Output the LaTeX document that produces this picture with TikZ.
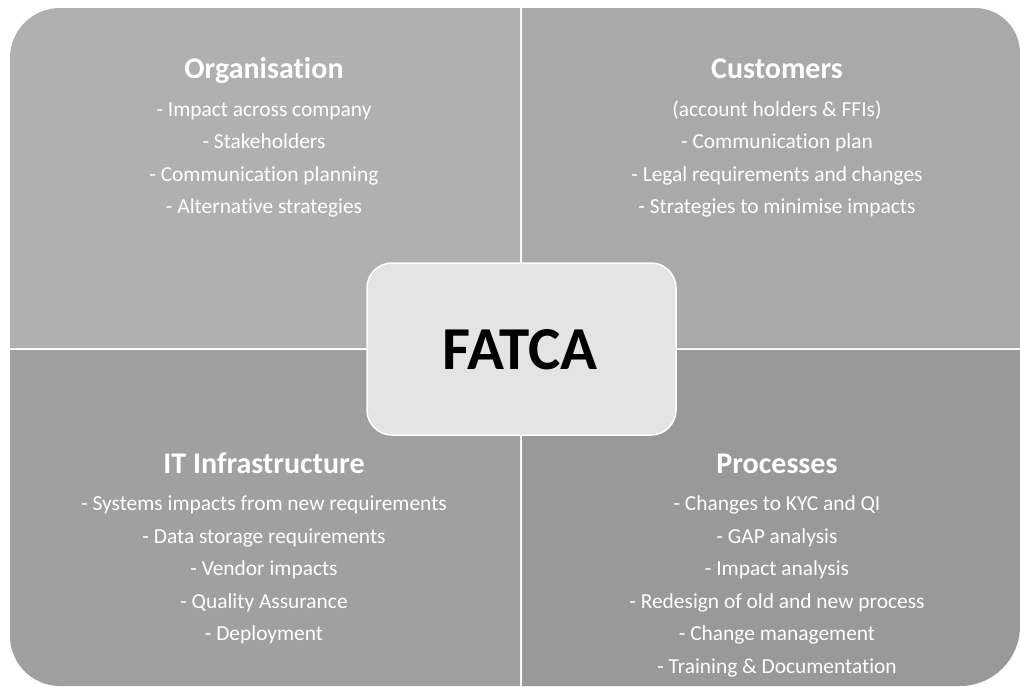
\documentclass[tikz,border=0pt]{standalone}
\usepackage{fontspec}
\setmainfont[Ligatures=NoCommon]{Carlito}
\definecolor{qa}{HTML}{B0B0B0}
\definecolor{qb}{HTML}{A9A9A9}
\definecolor{qc}{HTML}{A0A0A0}
\definecolor{qd}{HTML}{999999}
\definecolor{hub}{HTML}{E4E4E4}
\tikzset{
  ttl/.style={anchor=base, text=white, font=\fontsize{30}{34}\selectfont\bfseries, inner sep=0pt},
  itm/.style={anchor=base, text=white, font=\fontsize{21.4}{25}\selectfont, inner sep=0pt},
  hubbox/.style={draw=white, line width=1.5pt, fill=hub, rounded corners=25pt}
}
\begin{document}
\begin{tikzpicture}[x=1pt,y=-1pt]
\useasboundingbox (0,0) rectangle (1020,686);
\fill[white] (0,0) rectangle (1020,686);
% quadrants
\fill[qa] (520,348) -- (10,348) [rounded corners=50pt] -- (10,8) [sharp corners] -- (520,8) -- cycle;
\fill[qb] (522,348) -- (522,8) [rounded corners=45pt] -- (1020,8) [sharp corners] -- (1020,348) -- cycle;
\fill[qc] (520,350) -- (10,350) [rounded corners=50pt] -- (10,686) [sharp corners] -- (520,686) -- cycle;
\fill[qd] (522,350) -- (522,686) [rounded corners=60pt] -- (1020,686) [sharp corners] -- (1020,350) -- cycle;
% hub
\node[hubbox, minimum width=309pt, minimum height=172pt, inner sep=0pt] (hub) at (521.5,349) {};
\node[font=\fontsize{61}{64}\selectfont\bfseries, text=black, inner sep=0pt, anchor=base] (fatca) at (520,369) {FATCA};
% Organisation
\node[ttl] (t1) at (264,78) {Organisation};
\node[itm] (o1) at (264,116) {- Impact across company};
\node[itm] (o2) at (264,148) {- Stakeholders};
\node[itm] (o3) at (264,181) {- Communication planning};
\node[itm] (o4) at (264,213) {- Alternative strategies};
% Customers
\node[ttl] (t2) at (777,78) {Customers};
\node[itm] (c1) at (777,116) {(account holders \& FFIs)};
\node[itm] (c2) at (777,148) {- Communication plan};
\node[itm] (c3) at (777,181) {- Legal requirements and changes};
\node[itm] (c4) at (777,213) {- Strategies to minimise impacts};
% IT Infrastructure
\node[ttl] (t3) at (264,473) {IT Infrastructure};
\node[itm] (i1) at (264,510) {- Systems impacts from new requirements};
\node[itm] (i2) at (264,543) {- Data storage requirements};
\node[itm] (i3) at (264,575) {- Vendor impacts};
\node[itm] (i4) at (264,608) {- Quality Assurance};
\node[itm] (i5) at (264,640) {- Deployment};
% Processes
\node[ttl] (t4) at (777,473) {Processes};
\node[itm] (p1) at (777,510) {- Changes to KYC and QI};
\node[itm] (p2) at (777,543) {- GAP analysis};
\node[itm] (p3) at (777,575) {- Impact analysis};
\node[itm] (p4) at (777,608) {- Redesign of old and new process};
\node[itm] (p5) at (777,640) {- Change management};
\node[itm] (p6) at (777,673) {- Training \& Documentation};
\end{tikzpicture}
\end{document}
